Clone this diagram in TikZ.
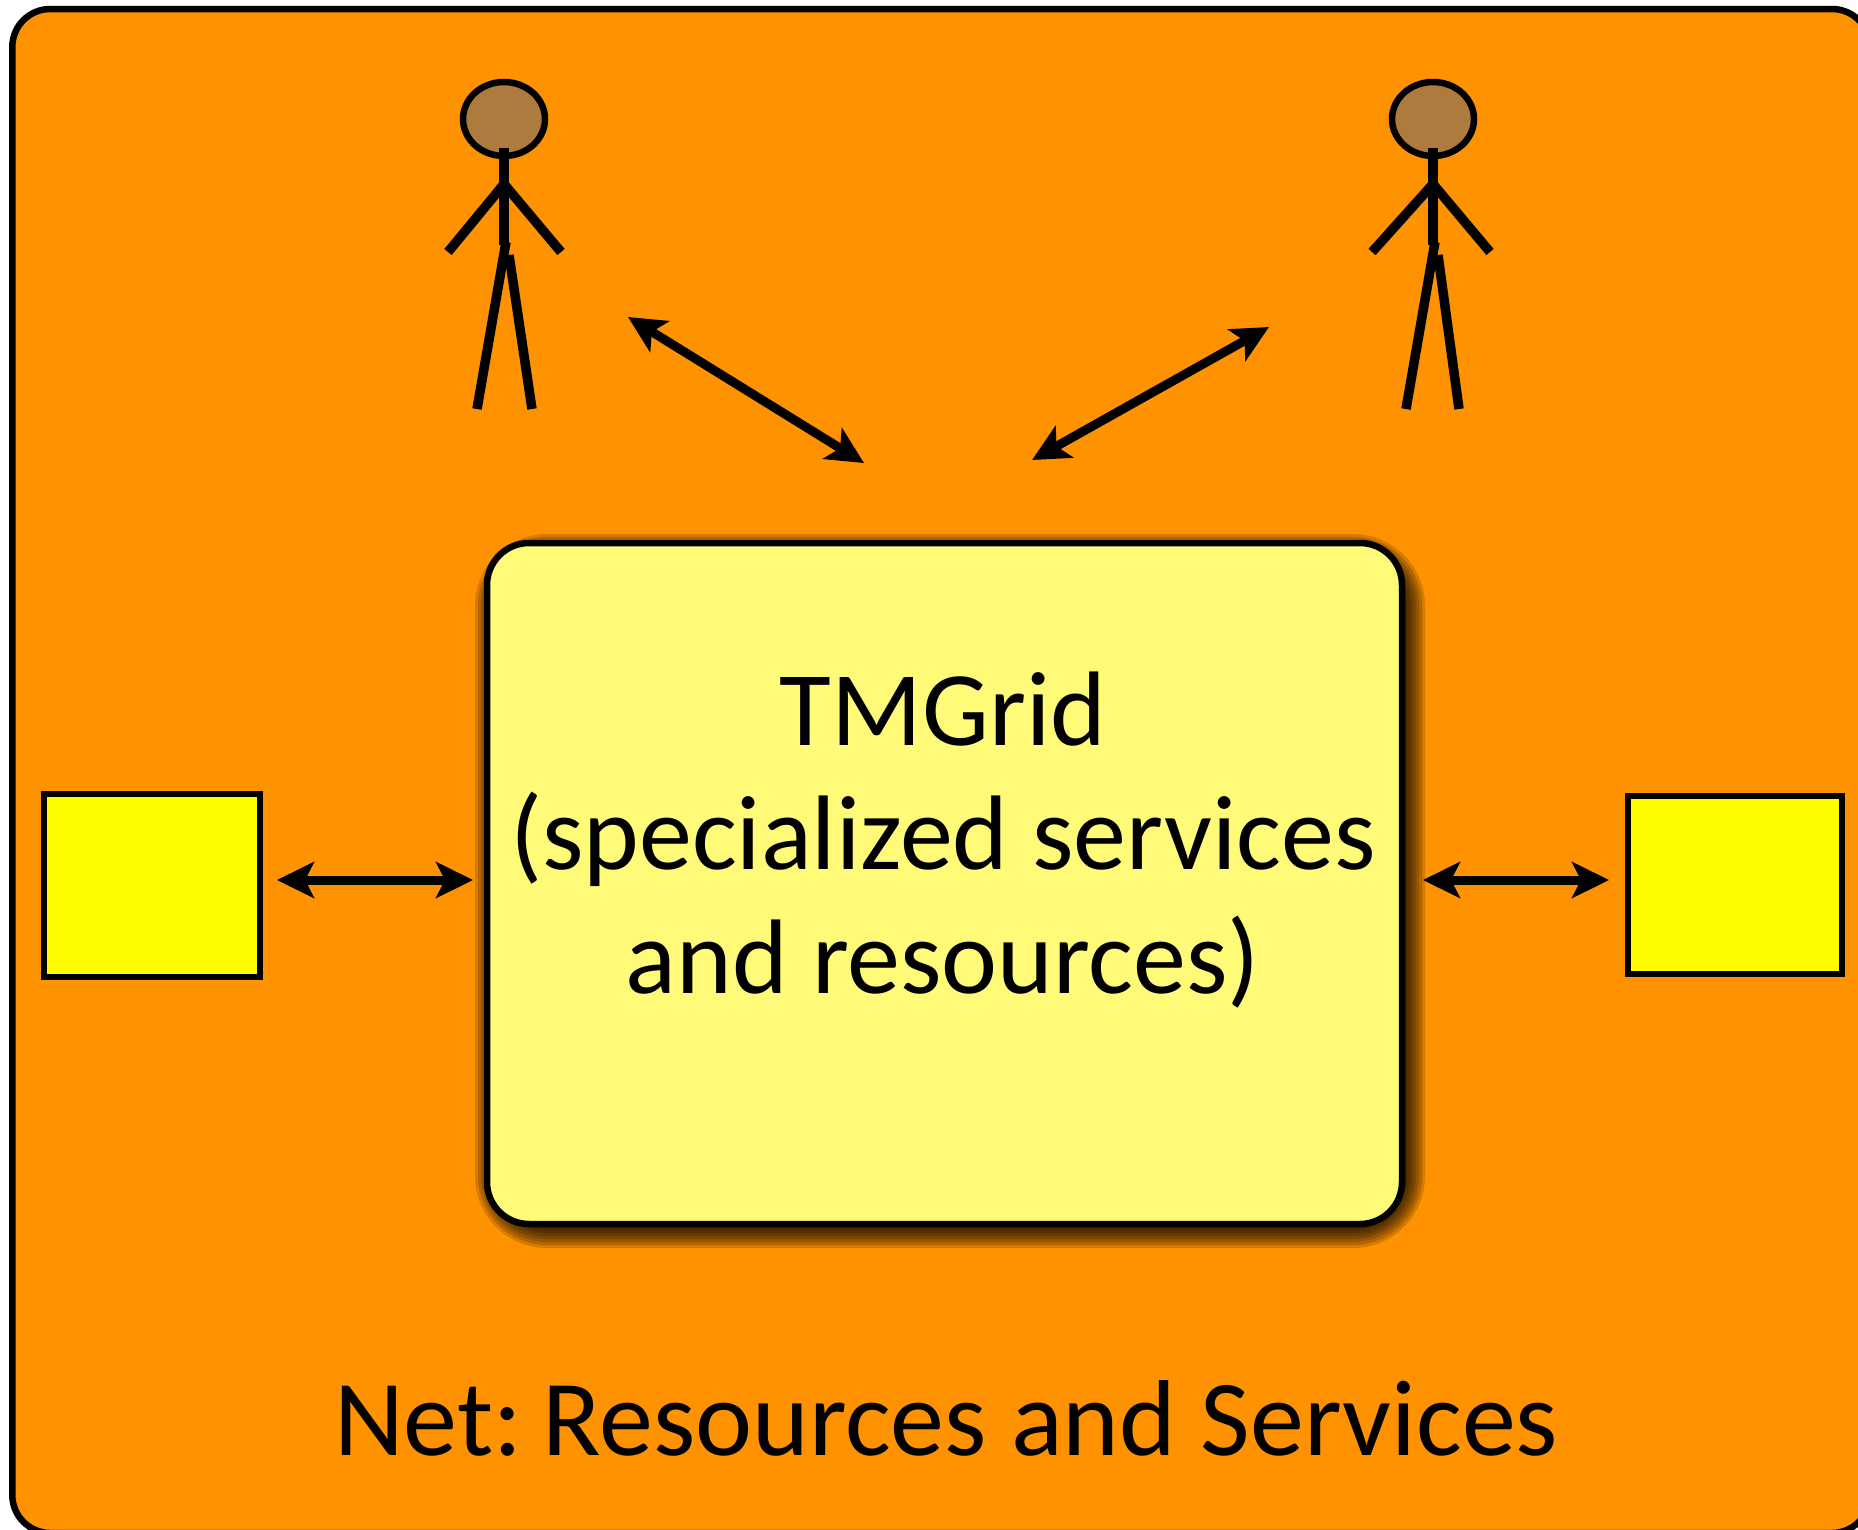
\documentclass[tikz,border=0pt]{standalone}
\usepackage{fontspec}
\setmainfont{Carlito}
\usetikzlibrary{positioning,
    shapes.geometric,
    arrows.meta}

\definecolor{netorange}{RGB}{255,146,0}
\definecolor{gridyellow}{RGB}{255,251,120}
\definecolor{resyellow}{RGB}{255,252,0}
\definecolor{headbrown}{RGB}{174,123,62}

\begin{document}
\begin{tikzpicture} [x = 1pt, y = -1pt,
    > = {Stealth[length=37pt, width=36pt, inset=9pt]},
    every node/.style = {outer sep = 0pt, inner sep = 0pt},
    conn/.style = {<->, line width = 9pt},
    limb/.style = {line width = 9.5pt},
    head/.style = {ellipse, draw, line width = 6.5pt, fill = headbrown,
        minimum width = 82pt, minimum height = 74pt},
    gridbox/.style = {rectangle, rounded corners = 42pt, draw, line width = 6.5pt,
        fill = gridyellow, minimum width = 915pt, minimum height = 681pt},
    gridshadow/.style = {rectangle, fill = black, fill opacity = 0.16},
    res/.style = {rectangle, draw, line width = 6.5pt, fill = resyellow},
    big/.style = {font = \fontsize{106}{124}\selectfont, align = center}]
\useasboundingbox (0,0) rectangle (1858,1529);
\fill[white] (0,0) rectangle (1858,1529);
\draw[line width = 6.5pt, fill = netorange, rounded corners = 38pt]
    (12.3,9) rectangle (1870,1533);

% soft shadow of the box
\foreach \g in {0,3,...,30} {
    \node[gridshadow, rounded corners = 42pt + \g pt,
        minimum width = 890pt + 2*\g pt,
        minimum height = 654pt + 2*\g pt] at (950,891) {};
}

\node[gridbox] (box) at (944.5,883.5) {};
\node[big] (boxtext) at (943,840) {TMGrid\\(specialized services\\and resources)};
\node[res, minimum width = 216pt, minimum height = 183pt,
    left = 227pt of box, yshift = -2pt] (res1) {};
\node[res, minimum width = 214pt, minimum height = 178pt,
    right = 226pt of box, yshift = -1.5pt] (res2) {};
\node[big, font = \fontsize{108}{124}\selectfont, anchor = base] (net) at (946,1455)
    {Net:\hspace{-12pt} Resources and Services};

% people
\foreach \p/\x/\a/\l in {p1/504/56/28, p2/1433/61/26} {
    \node[head] (\p) at (\x,119) {};
    \draw[limb] (\x,148) -- (\x,245);
    \draw[limb] (\x-\a,252) -- (\x,184) -- (\x+57,252);
    \draw[limb] (\x-27,409) -- (\x+2,242);
    \draw[limb] (\x+5,255) -- (\x+\l,409);
}

\coordinate (a1) at (628,317);
\coordinate (a2) at (864,463);
\coordinate (b1) at (1269,327);
\coordinate (b2) at (1032,460);
\coordinate (c1) at (277,880);
\coordinate (c2) at (473,880);
\coordinate (d1) at (1423,880);
\coordinate (d2) at (1609,880);

\draw[conn] (a1) -- (a2);
\draw[conn] (b1) -- (b2);
\draw[conn] (c1) -- (c2);
\draw[conn] (d1) -- (d2);
\end{tikzpicture}
\end{document}
